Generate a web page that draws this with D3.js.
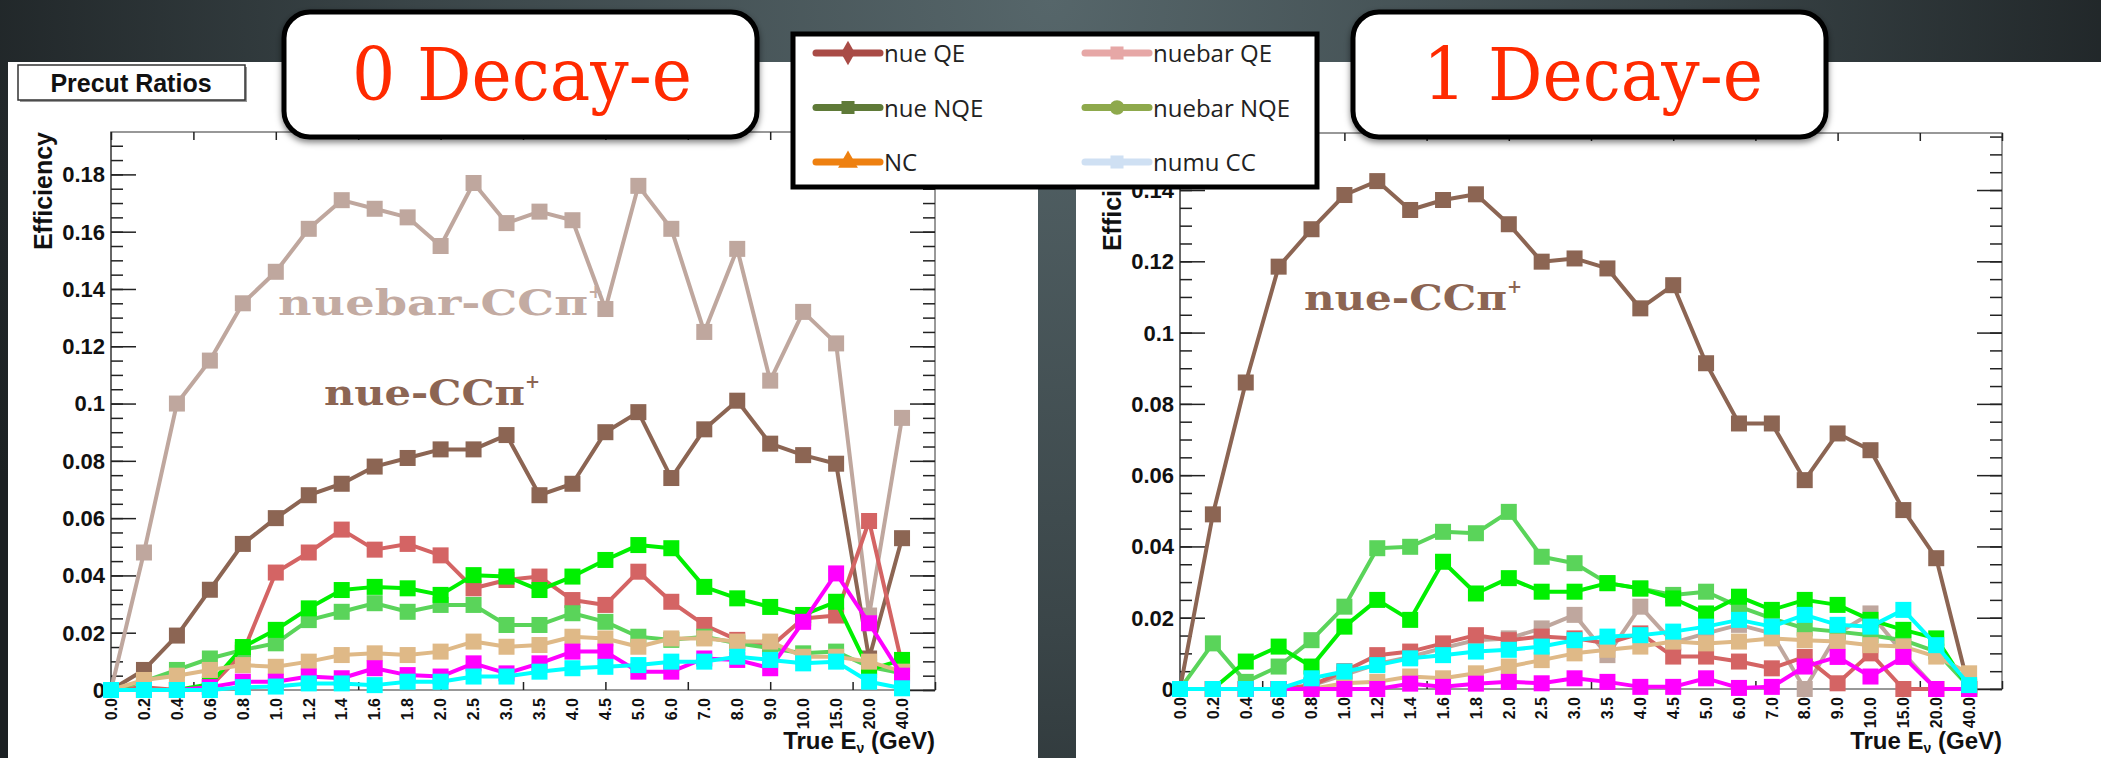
<!DOCTYPE html>
<html>
<head>
<meta charset="utf-8">
<script src="https://cdn.jsdelivr.net/npm/d3@7"></script>
<style>
  html, body { margin: 0; padding: 0; background: #262d30; }
  svg { display: block; }
</style>
</head>
<body>
<div id="chart"></div>
<script>
// energy bins (GeV), one point per bin
const categories = ["0.0","0.2","0.4","0.6","0.8","1.0","1.2","1.4","1.6","1.8","2.0","2.5","3.0",
  "3.5","4.0","4.5","5.0","6.0","7.0","8.0","9.0","10.0","15.0","20.0","40.0"];

// 0 Decay-e panel
const zero_nuebarCCpi = [0, 0.048, 0.100, 0.115, 0.135, 0.146, 0.161, 0.171, 0.168, 0.165, 0.155, 0.177, 0.163,
  0.167, 0.164, 0.133, 0.176, 0.161, 0.125, 0.154, 0.108, 0.132, 0.121, 0.026, 0.095];
const zero_nueCCpi = [0, 0.007, 0.019, 0.035, 0.051, 0.060, 0.068, 0.072, 0.078, 0.081, 0.084, 0.084, 0.089,
  0.068, 0.072, 0.090, 0.097, 0.074, 0.091, 0.101, 0.086, 0.082, 0.079, 0.011, 0.053];
const zero_red = [0, 0.001, 0, 0.001, 0.013, 0.041, 0.048, 0.056, 0.049, 0.051, 0.047, 0.0355, 0.0384,
  0.0396, 0.0314, 0.0297, 0.0413, 0.0308, 0.0227, 0.0175, 0.015, 0.025, 0.026, 0.059, 0.009];
const zero_green = [0, 0, 0, 0.002, 0.015, 0.021, 0.0285, 0.0349, 0.036, 0.0355, 0.0332, 0.0401, 0.0396,
  0.0349, 0.0396, 0.0454, 0.0506, 0.0495, 0.036, 0.032, 0.029, 0.0262, 0.0308, 0.007, 0.0105];
const zero_lightGreen = [0, 0.003, 0.007, 0.011, 0.014, 0.0163, 0.0244, 0.0273, 0.0303, 0.0273, 0.0297, 0.0297, 0.0227,
  0.0227, 0.0268, 0.0238, 0.0186, 0.0175, 0.0186, 0.0163, 0.0146, 0.0128, 0.0134, 0.0081, 0.0058];
const zero_tan = [0, 0.0035, 0.005, 0.007, 0.0087, 0.0081, 0.0099, 0.0122, 0.0128, 0.0122, 0.0134, 0.0169, 0.0151,
  0.0157, 0.0186, 0.018, 0.0151, 0.018, 0.018, 0.0169, 0.0169, 0.0116, 0.0116, 0.0099, 0.0064];
const zero_magenta = [0, 0, 0, 0.001, 0.0029, 0.0029, 0.0047, 0.0041, 0.0076, 0.0052, 0.0047, 0.0093, 0.0058,
  0.0093, 0.0134, 0.0134, 0.0064, 0.0064, 0.011, 0.0105, 0.0076, 0.0238, 0.0407, 0.0233, 0.005];
const zero_cyan = [0, 0, 0, 0, 0.001, 0.0012, 0.0023, 0.0023, 0.0017, 0.0029, 0.0029, 0.0047, 0.0047,
  0.0064, 0.0076, 0.0081, 0.0087, 0.0099, 0.0099, 0.0116, 0.0105, 0.0093, 0.0099, 0.0029, 0.0006];

// 1 Decay-e panel
const one_nuebarCCpi = [0, 0, 0, 0, 0.001, 0.004, 0.007, 0.009, 0.0115, 0.0137, 0.0142, 0.017, 0.0208,
  0.0095, 0.0231, 0.013, 0.0156, 0.018, 0.0156, 0, 0.0156, 0.0212, 0.010, 0, 0];
const one_nueCCpi = [0, 0.049, 0.086, 0.1185, 0.129, 0.1386, 0.1425, 0.1344, 0.1372, 0.1388, 0.1304, 0.1199, 0.1208,
  0.118, 0.1068, 0.1133, 0.0914, 0.0745, 0.0745, 0.0586, 0.0717, 0.067, 0.0502, 0.0367, 0];
const one_red = [0, 0, 0, 0, 0.001, 0.005, 0.0095, 0.0105, 0.0128, 0.0151, 0.0137, 0.0147, 0.0142,
  0.0128, 0.0156, 0.0091, 0.0091, 0.0077, 0.0058, 0.009, 0.0016, 0.010, 0, 0, 0];
const one_green = [0, 0, 0.0077, 0.0119, 0.0063, 0.0175, 0.025, 0.0194, 0.0357, 0.0268, 0.0311, 0.0273, 0.0273,
  0.0297, 0.0282, 0.0254, 0.0212, 0.0259, 0.0222, 0.025, 0.0236, 0.0194, 0.0166, 0.0142, 0];
const one_lightGreen = [0, 0.0128, 0.002, 0.0063, 0.0137, 0.0231, 0.0395, 0.0399, 0.0441, 0.0437, 0.0497, 0.0371, 0.0353,
  0.0297, 0.0282, 0.0264, 0.0273, 0.0231, 0.0198, 0.017, 0.0161, 0.0151, 0.0137, 0.0105, 0.0006];
const one_tan = [0, 0, 0, 0, 0, 0.0016, 0.002, 0.0035, 0.003, 0.0044, 0.0063, 0.0081, 0.010,
  0.011, 0.0119, 0.0133, 0.0128, 0.0133, 0.0142, 0.0137, 0.0133, 0.0123, 0.0119, 0.0091, 0.0044];
const one_magenta = [0, 0, 0, 0, 0, 0, 0, 0.0015, 0.0006, 0.0015, 0.002, 0.0016, 0.003,
  0.002, 0.0006, 0.0006, 0.003, 0.0003, 0.0006, 0.0063, 0.009, 0.0035, 0.009, 0, 0];
const one_cyan = [0, 0, 0, 0, 0.003, 0.0049, 0.0067, 0.0086, 0.0095, 0.0105, 0.011, 0.0119, 0.0137,
  0.0147, 0.0151, 0.0161, 0.0175, 0.0194, 0.0175, 0.0208, 0.018, 0.0175, 0.0222, 0.0123, 0.0011];

const seriesColors = ["#bfa79e", "#8c6553", "#d46464", "#5ad45a", "#00f000", "#dfb987", "#ff00ff", "#00ffff"];

// overlay legend (pasted on top of the plots)
const legendNames = ["nue QE", "nuebar QE", "nue NQE", "nuebar NQE", "NC", "numu CC"];
const legendColors = ["#a94b46", "#e6a7a6", "#5f7a38", "#8ea94c", "#ee8010", "#cfe0f3"];
const legendSymbols = [d3.symbolDiamond, d3.symbolSquare, d3.symbolSquare, d3.symbolCircle, d3.symbolTriangle, d3.symbolSquare];

const W = 2101, H = 758;
const svg = d3.select("#chart").append("svg").attr("width", W).attr("height", H);
const defs = svg.append("defs");

const bg = defs.append("radialGradient").attr("id", "bg")
  .attr("gradientUnits", "userSpaceOnUse").attr("cx", 1050).attr("cy", 0).attr("r", 1150);
bg.append("stop").attr("offset", 0).attr("stop-color", "#56666a");
bg.append("stop").attr("offset", 0.55).attr("stop-color", "#3a4548");
bg.append("stop").attr("offset", 1).attr("stop-color", "#1c2123");

const shadow = defs.append("filter").attr("id", "shadow")
  .attr("x", "-10%").attr("y", "-10%").attr("width", "120%").attr("height", "130%");
shadow.append("feDropShadow").attr("dx", 0).attr("dy", 3).attr("stdDeviation", 3)
  .attr("flood-color", "#000").attr("flood-opacity", 0.5);

svg.append("rect").attr("width", W).attr("height", H).attr("fill", "url(#bg)");

// white slide panels
svg.append("rect").attr("x", 8).attr("y", 62).attr("width", 1030).attr("height", H - 62).attr("fill", "#fff");
svg.append("rect").attr("x", 1076).attr("y", 62).attr("width", W - 1076).attr("height", H - 62).attr("fill", "#fff");

function drawPanel(p) {
  const g = svg.append("g");
  const x = d3.scaleLinear().domain([0, categories.length]).range([p.x0, p.x1]);
  const y = d3.scaleLinear().domain([0, p.ymax]).range([p.y1, p.y0]);

  // frame
  g.append("rect").attr("x", p.x0).attr("y", p.y0)
    .attr("width", p.x1 - p.x0).attr("height", p.y1 - p.y0)
    .attr("fill", "none").attr("stroke", "#777").attr("stroke-width", 1.5);
  g.append("line").attr("x1", p.x0).attr("x2", p.x0).attr("y1", p.y0).attr("y2", p.y1)
    .attr("stroke", "#666").attr("stroke-width", 2);

  // y axes (ticks drawn inward on both sides)
  const minor = d3.range(0, p.ymax + 1e-9, 0.005);
  const major = d3.range(0, p.ymax + 1e-9, 0.02);
  const yl = d3.axisRight(y).tickValues(minor).tickSize(12).tickFormat("");
  const yr = d3.axisLeft(y).tickValues(minor).tickSize(12).tickFormat("");
  g.append("g").attr("transform", `translate(${p.x0},0)`).call(yl);
  g.append("g").attr("transform", `translate(${p.x1},0)`).call(yr);
  g.append("g").attr("transform", `translate(${p.x0},0)`)
    .call(d3.axisRight(y).tickValues(major).tickSize(25).tickFormat(""));
  g.append("g").attr("transform", `translate(${p.x1},0)`)
    .call(d3.axisLeft(y).tickValues(major).tickSize(25).tickFormat(""));
  g.selectAll(".domain").remove();
  g.selectAll(".tick line").attr("stroke", "#222").attr("stroke-width", 1.5);

  g.append("g").selectAll("text").data(major).join("text")
    .attr("x", p.x0 - 6).attr("y", d => y(d))
    .attr("dy", "0.36em").attr("text-anchor", "end")
    .attr("font-family", "Liberation Sans, Arial, sans-serif").attr("font-weight", "bold")
    .attr("font-size", 22).attr("fill", "#111")
    .text(d => d === 0 ? "0" : d3.format(".2~f")(d));

  // x axis ticks every 2.5 bins, top and bottom
  const xt = d3.range(0, categories.length + 0.01, 2.5);
  g.append("g").attr("transform", `translate(0,${p.y1})`)
    .call(d3.axisTop(x).tickValues(xt).tickSize(8).tickFormat(""))
    .call(a => a.select(".domain").remove())
    .selectAll("line").attr("stroke", "#222").attr("stroke-width", 1.5);
  g.append("g").attr("transform", `translate(0,${p.y0})`)
    .call(d3.axisBottom(x).tickValues(xt).tickSize(8).tickFormat(""))
    .call(a => a.select(".domain").remove())
    .selectAll("line").attr("stroke", "#222").attr("stroke-width", 1.5);

  g.append("g").selectAll("text").data(categories).join("text")
    .attr("transform", (d, i) => `translate(${x(i)},${p.y1 + 8}) rotate(-90)`)
    .attr("dy", "0.36em").attr("text-anchor", "end")
    .attr("font-family", "Liberation Sans, Arial, sans-serif").attr("font-weight", "bold")
    .attr("font-size", 16).attr("fill", "#111")
    .text(d => d);

  // axis titles
  g.append("text")
    .attr("transform", `translate(${p.x0 - 59},${p.y0}) rotate(-90)`)
    .attr("text-anchor", "end")
    .attr("font-family", "Liberation Sans, Arial, sans-serif").attr("font-weight", "bold")
    .attr("font-size", 25).attr("fill", "#111")
    .text("Efficiency");
  const xt2 = g.append("text").attr("x", p.x1).attr("y", 749).attr("text-anchor", "end")
    .attr("font-family", "Liberation Sans, Arial, sans-serif").attr("font-weight", "bold")
    .attr("font-size", 24).attr("fill", "#111");
  xt2.append("tspan").text("True E");
  xt2.append("tspan").attr("font-size", 14).attr("dy", 4).text("ν");
  xt2.append("tspan").attr("dy", -4).text(" (GeV)");

  // series: line + square markers
  const line = d3.line().x((d, i) => x(i)).y(d => y(d));
  p.series.forEach((s, k) => {
    const sg = g.append("g");
    sg.append("path").datum(s).attr("d", line)
      .attr("fill", "none").attr("stroke", seriesColors[k]).attr("stroke-width", 4)
      .attr("stroke-linejoin", "round");
    sg.selectAll("rect").data(s).join("rect")
      .attr("x", (d, i) => x(i) - 8).attr("y", d => y(d) - 8)
      .attr("width", 16).attr("height", 16).attr("fill", seriesColors[k]);
  });

  // series annotations
  p.labels.forEach(l => {
    const t = g.append("text").attr("x", l.x).attr("y", l.y)
      .attr("font-family", "DejaVu Serif, serif").attr("font-weight", "bold")
      .attr("font-size", 36).attr("fill", l.color);
    t.append("tspan").attr("textLength", l.w).attr("lengthAdjust", "spacingAndGlyphs").text(l.text);
    t.append("tspan").attr("font-size", 18).attr("dy", -17).text("+");
  });
}

drawPanel({
  x0: 111, x1: 935, y0: 132, y1: 690, ymax: 0.1948,
  series: [zero_nuebarCCpi, zero_nueCCpi, zero_red, zero_lightGreen, zero_green, zero_tan, zero_magenta, zero_cyan],
  labels: [
    {text: "nuebar-CCπ", x: 278, y: 315, w: 310, color: "#c3aba2"},
    {text: "nue-CCπ", x: 324, y: 405, w: 201, color: "#8c6553"}
  ]
});
drawPanel({
  x0: 1180, x1: 2002, y0: 133, y1: 689, ymax: 0.156,
  series: [one_nuebarCCpi, one_nueCCpi, one_red, one_lightGreen, one_green, one_tan, one_magenta, one_cyan],
  labels: [
    {text: "nue-CCπ", x: 1304, y: 310, w: 203, color: "#8c6553"}
  ]
});

// canvas title box
svg.append("rect").attr("x", 20).attr("y", 67).attr("width", 227).attr("height", 35).attr("fill", "#999");
svg.append("rect").attr("x", 18).attr("y", 65).attr("width", 227).attr("height", 35)
  .attr("fill", "#fff").attr("stroke", "#333").attr("stroke-width", 1.5);
svg.append("text").attr("x", 131).attr("y", 92).attr("text-anchor", "middle")
  .attr("font-family", "Liberation Sans, Arial, sans-serif").attr("font-weight", "bold")
  .attr("font-size", 25).attr("fill", "#111").text("Precut Ratios");

// "n Decay-e" callouts
[{x: 284, text: "0 Decay-e", cx: 522}, {x: 1353, text: "1 Decay-e", cx: 1593}].forEach(b => {
  svg.append("rect").attr("x", b.x).attr("y", 12).attr("width", 473).attr("height", 125)
    .attr("rx", 26).attr("fill", "#fff").attr("stroke", "#000").attr("stroke-width", 5)
    .attr("filter", "url(#shadow)");
  svg.append("text").attr("x", b.cx).attr("y", 100).attr("text-anchor", "middle")
    .attr("font-family", "DejaVu Serif, serif").attr("font-size", 72).attr("fill", "#ff2a00")
    .attr("textLength", 340).attr("lengthAdjust", "spacingAndGlyphs")
    .text(b.text);
});

// legend overlay
const lg = svg.append("g");
lg.append("rect").attr("x", 793).attr("y", 34).attr("width", 524).attr("height", 153)
  .attr("fill", "#fff").attr("stroke", "#000").attr("stroke-width", 5);
legendNames.forEach((name, i) => {
  const col = i % 2, row = Math.floor(i / 2);
  const lx = col === 0 ? 816 : 1085;
  const ly = 53 + row * 54.5;
  lg.append("line").attr("x1", lx).attr("x2", lx + 64).attr("y1", ly).attr("y2", ly)
    .attr("stroke", legendColors[i]).attr("stroke-width", 7).attr("stroke-linecap", "round");
  lg.append("path").attr("d", d3.symbol().type(legendSymbols[i]).size(170)())
    .attr("transform", `translate(${lx + 32},${ly})`).attr("fill", legendColors[i]);
  lg.append("text").attr("x", lx + 68).attr("y", ly + 9)
    .attr("font-family", "Open Sans, Noto Sans, sans-serif").attr("font-size", 24).attr("fill", "#222")
    .text(name);
});
</script>
</body>
</html>
